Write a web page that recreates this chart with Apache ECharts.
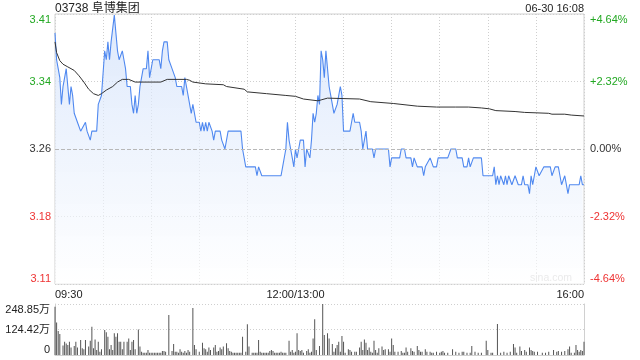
<!DOCTYPE html>
<html><head><meta charset="utf-8">
<script src="https://cdn.jsdelivr.net/npm/echarts@6/dist/echarts.min.js"></script>
<style>html,body{margin:0;padding:0;background:#fff}#c{width:640px;height:360px}</style>
</head><body><div id="c"></div>
<script>
const stockTitle = '03738 阜博集团';
const stamp = '06-30 16:08';
const preClose = 3.26;
const priceTickLabels = ['3.11', '3.18', '3.26', '3.34', '3.41'];
const pctTickLabels = ['-4.64%', '-2.32%', '0.00%', '+2.32%', '+4.64%'];
const volTickLabels = ['0', '124.42万', '248.85万'];
const timeLabels = {0: '09:30', 150: '12:00/13:00', 330: '16:00'};

const priceTimes = [0,1,2,3,4,5,6,7,8,9,10,11,12,13,14,15,16,17,19,20,21,22,23,26,27,28,29,31,32,33,34,35,37,38,39,40,41,42,43,44,45,47,48,49,50,51,52,53,54,55,57,58,59,60,61,65,66,67,68,70,71,72,73,75,76,79,80,81,82,83,84,85,86,87,88,90,91,92,93,94,95,96,97,98,99,100,103,104,105,106,107,108,116,117,118,119,125,126,127,128,129,141,142,143,144,145,146,147,148,149,150,151,152,153,155,156,157,158,159,160,161,162,163,164,165,166,167,168,169,170,171,172,173,174,175,176,177,178,179,180,184,185,186,187,190,191,192,193,194,195,198,199,200,208,209,210,215,216,218,219,222,223,224,225,226,229,230,231,232,234,236,238,239,245,247,250,251,254,255,257,258,259,261,266,267,273,274,275,276,277,278,279,280,281,282,283,284,285,287,289,291,292,293,295,296,297,298,299,300,302,303,305,309,310,311,312,314,315,316,318,319,320,321,327,328,329,330];
const prices = [3.39,3.36,3.35,3.34,3.31,3.33,3.34,3.35,3.33,3.31,3.33,3.32,3.30,3.30,3.29,3.29,3.28,3.28,3.29,3.28,3.28,3.27,3.28,3.28,3.31,3.31,3.32,3.37,3.36,3.38,3.36,3.38,3.41,3.39,3.37,3.36,3.36,3.37,3.36,3.35,3.33,3.33,3.31,3.30,3.32,3.30,3.31,3.33,3.34,3.35,3.35,3.37,3.34,3.34,3.36,3.36,3.35,3.37,3.38,3.38,3.36,3.36,3.35,3.34,3.33,3.33,3.32,3.34,3.33,3.32,3.31,3.30,3.31,3.31,3.29,3.29,3.28,3.29,3.28,3.29,3.28,3.29,3.29,3.28,3.27,3.28,3.28,3.27,3.27,3.26,3.27,3.28,3.28,3.26,3.26,3.24,3.24,3.23,3.24,3.24,3.23,3.23,3.24,3.24,3.26,3.29,3.27,3.26,3.25,3.24,3.26,3.25,3.26,3.27,3.27,3.24,3.26,3.26,3.25,3.27,3.30,3.29,3.30,3.32,3.31,3.37,3.36,3.34,3.37,3.37,3.33,3.32,3.31,3.30,3.30,3.31,3.32,3.33,3.32,3.28,3.28,3.29,3.30,3.29,3.29,3.28,3.26,3.27,3.28,3.26,3.26,3.25,3.26,3.26,3.24,3.25,3.25,3.26,3.26,3.25,3.25,3.24,3.25,3.25,3.24,3.24,3.23,3.24,3.24,3.25,3.24,3.24,3.25,3.25,3.26,3.26,3.25,3.25,3.24,3.24,3.25,3.24,3.25,3.25,3.23,3.23,3.24,3.22,3.23,3.22,3.23,3.23,3.22,3.23,3.22,3.23,3.23,3.22,3.23,3.22,3.22,3.23,3.22,3.22,3.21,3.23,3.22,3.23,3.24,3.23,3.23,3.24,3.24,3.23,3.23,3.24,3.24,3.23,3.22,3.23,3.22,3.21,3.22,3.22,3.23,3.22,3.22];

const avgTimes = [0,1,3,5,8,12,15,18,21,24,27,29,32,36,39,42,46,50,66,70,82,84,86,94,105,107,118,120,132,144,150,155,164,166,170,190,197,211,226,238,250,258,266,271,275,287,293,308,310,318,322,330];
const avgPrices = [3.380,3.368,3.359,3.355,3.352,3.348,3.342,3.335,3.327,3.322,3.320,3.322,3.326,3.330,3.335,3.338,3.338,3.335,3.335,3.338,3.338,3.337,3.335,3.333,3.332,3.330,3.327,3.324,3.322,3.320,3.319,3.316,3.314,3.315,3.317,3.316,3.313,3.311,3.308,3.307,3.307,3.307,3.306,3.305,3.303,3.302,3.301,3.300,3.299,3.299,3.298,3.297];

const volTimes = [0,1,2,3,5,6,7,8,9,10,12,13,14,16,17,18,19,21,22,23,24,25,26,27,28,29,31,32,33,34,35,36,37,38,39,40,41,42,43,45,46,47,48,49,50,52,53,54,55,56,57,58,59,60,61,62,63,64,65,66,67,68,69,71,73,74,75,76,77,78,79,80,81,82,83,84,86,87,88,90,92,93,94,95,96,97,99,100,101,102,103,104,105,107,108,109,110,111,112,113,114,115,116,117,119,120,121,123,124,125,126,127,128,129,130,131,132,133,134,135,136,137,138,139,140,141,142,143,144,146,147,148,149,150,151,152,153,154,155,157,158,159,160,161,162,163,165,167,168,170,171,173,174,175,176,177,178,179,180,181,183,184,185,187,188,190,191,192,193,194,195,196,197,198,199,200,201,202,204,205,206,208,209,210,211,212,214,216,217,218,219,220,222,223,224,226,227,228,229,231,232,234,235,236,238,240,241,242,243,245,248,250,252,254,255,257,259,260,262,264,266,269,270,272,273,276,278,280,282,284,286,287,288,290,291,293,294,296,297,298,299,301,304,306,308,311,313,314,316,318,320,321,322,324,325,326,327,328,329,330];
const volumes = [236,158,117,102,46,65,56,49,65,37,44,65,37,73,33,28,73,41,70,138,33,76,24,65,16,28,122,111,89,28,49,24,106,89,106,65,65,28,65,65,81,24,65,73,28,125,41,16,11,11,11,24,11,11,11,11,11,11,11,11,20,20,16,195,20,54,16,16,11,28,16,11,20,11,24,16,229,49,28,16,60,33,28,16,37,24,37,49,16,20,37,28,41,57,33,20,16,11,11,11,11,11,11,89,16,150,41,11,11,11,11,73,16,11,11,11,11,11,20,24,20,11,11,11,11,16,11,11,11,70,16,24,11,16,106,24,20,24,11,20,28,11,16,80,174,24,44,248.85,98,106,81,54,16,33,49,65,16,93,65,11,28,24,16,16,16,37,65,24,76,60,24,37,16,11,70,24,11,33,41,24,28,28,16,81,49,16,16,20,11,11,37,16,33,20,16,44,24,16,16,28,16,16,11,11,16,11,16,20,11,11,28,16,11,16,16,11,11,44,16,11,11,70,24,11,11,151,11,16,11,16,54,37,11,41,20,24,16,37,24,20,16,16,11,11,16,24,16,20,16,20,28,41,11,11,49,24,16,24,20,65];

const toPct = p => (p - preClose) / preClose * 100;
const pairs = (xs, ys, f) => xs.map((x, i) => [x, f ? f(ys[i]) : ys[i]]);
const pctIdx = v => Math.round(v / 2.32) + 2;
const FONT = '"Liberation Sans", Arial, "Noto Sans CJK SC", sans-serif';
const GREEN = '#22a822', RED = '#ee3333', DARK = '#333';
const labelRich = {
  g: {color: GREEN, fontSize: 11, fontFamily: FONT},
  r: {color: RED, fontSize: 11, fontFamily: FONT},
  d: {color: DARK, fontSize: 11, fontFamily: FONT}
};
const cls = i => i > 2 ? 'g' : (i < 2 ? 'r' : 'd');

const chart = echarts.init(document.getElementById('c'), null, {renderer: 'canvas'});
chart.setOption({
  animation: false,
  textStyle: {fontFamily: FONT},
  title: [
    {text: stockTitle, left: 55, top: 3, padding: 0, textStyle: {fontSize: 12, fontWeight: 'normal', color: '#222', fontFamily: FONT}},
    {text: stamp, right: 56, top: 3, padding: 0, textStyle: {fontSize: 11, fontWeight: 'normal', color: '#222', fontFamily: FONT}}
  ],
  graphic: [{type: 'text', right: 68, top: 273, style: {text: 'sina.com', fill: '#c8c8c8', font: '10.5px ' + FONT}}],
  grid: [
    {left: 55, right: 56, top: 14, height: 270, show: true, borderColor: '#d0d0d0', borderWidth: 1},
    {left: 55, right: 56, top: 304, height: 51, show: false}
  ],
  xAxis: [
    {type: 'value', gridIndex: 0, min: 0, max: 330, interval: 30,
     axisLine: {show: false}, axisTick: {show: false},
     splitLine: {show: true, lineStyle: {color: '#cfcfcf', type: [1, 2]}},
     axisLabel: {margin: 5, fontSize: 11, color: '#222', alignMinLabel: 'left', alignMaxLabel: 'right',
       formatter: v => timeLabels[v] || ''}},
    {type: 'value', gridIndex: 1, min: 0, max: 330, interval: 30,
     axisLine: {show: true, lineStyle: {color: '#d0d0d0'}}, axisTick: {show: false},
     splitLine: {show: false}, axisLabel: {show: false}}
  ],
  yAxis: [
    {type: 'value', gridIndex: 0, min: -4.64, max: 4.64, interval: 2.32,
     axisLine: {show: false}, axisTick: {show: false},
     splitLine: {show: true, lineStyle: {color: '#cfcfcf', type: [1, 2]}},
     axisLabel: {margin: 4, verticalAlignMinLabel: 'bottom', verticalAlignMaxLabel: 'top', rich: labelRich,
       formatter: v => { const i = pctIdx(v); return '{' + cls(i) + '|' + priceTickLabels[i] + '}'; }}},
    {type: 'value', gridIndex: 0, position: 'right', min: -4.64, max: 4.64, interval: 2.32,
     axisLine: {show: false}, axisTick: {show: false}, splitLine: {show: false},
     axisLabel: {margin: 6, verticalAlignMinLabel: 'bottom', verticalAlignMaxLabel: 'top', rich: labelRich,
       formatter: v => { const i = pctIdx(v); return '{' + cls(i) + '|' + pctTickLabels[i] + '}'; }}},
    {type: 'value', gridIndex: 1, min: 0, max: 248.85, interval: 124.425,
     axisLine: {show: true, lineStyle: {color: '#d0d0d0'}}, axisTick: {show: false},
     splitLine: {show: true, lineStyle: {color: '#cfcfcf', type: [1, 2]}},
     axisLabel: {margin: 5, fontSize: 11, color: '#222', verticalAlignMinLabel: 'bottom', verticalAlignMaxLabel: 'top',
       formatter: v => volTickLabels[Math.round(v / 124.425)]}},
    {type: 'value', gridIndex: 1, position: 'right', min: 0, max: 248.85,
     axisLine: {show: true, lineStyle: {color: '#d0d0d0'}}, axisTick: {show: false},
     splitLine: {show: false}, axisLabel: {show: false}}
  ],
  series: [
    {type: 'line', xAxisIndex: 0, yAxisIndex: 0, data: pairs(priceTimes, prices, toPct),
     showSymbol: false, z: 3,
     lineStyle: {color: '#5089f0', width: 1.1},
     areaStyle: {origin: 'start', color: new echarts.graphic.LinearGradient(0, 0, 0, 1, [
       {offset: 0, color: 'rgba(205,222,250,0.95)'}, {offset: 1, color: 'rgba(255,255,255,0.9)'}])},
     markLine: {silent: true, symbol: 'none', label: {show: false},
       lineStyle: {color: '#b8b8b8', type: [4, 2], width: 1}, data: [{yAxis: 0}]}},
    {type: 'line', xAxisIndex: 0, yAxisIndex: 0, data: pairs(avgTimes, avgPrices, toPct),
     showSymbol: false, z: 4, lineStyle: {color: '#333', width: 1}},
    {type: 'bar', xAxisIndex: 1, yAxisIndex: 2, data: pairs(volTimes, volumes),
     barWidth: 1, itemStyle: {color: '#555'}}
  ]
});
</script></body></html>
